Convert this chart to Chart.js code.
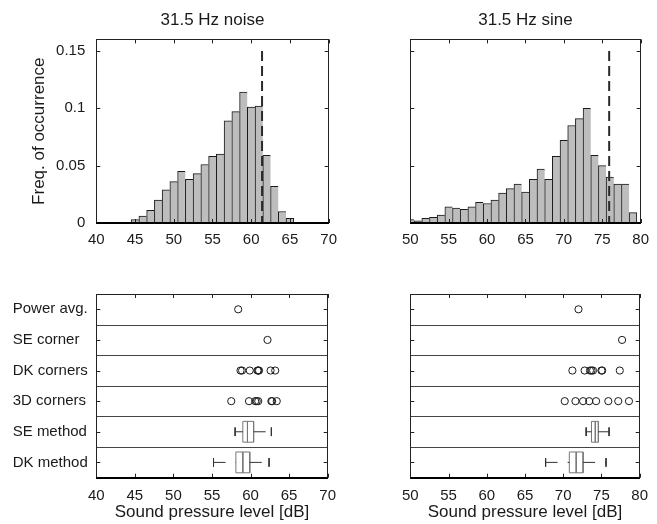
<!DOCTYPE html>
<html>
<head>
<meta charset="utf-8">
<script src="https://cdn.jsdelivr.net/npm/chart.js@4.4.1/dist/chart.umd.min.js"></script>
<style>
  body { margin: 0; background: #fff; }
  #wrap { position: relative; width: 657px; height: 524px; }
  canvas { position: absolute; }
</style>
</head>
<body>
<div id="wrap">
  <canvas id="histNoise" width="345" height="262" style="left:0;top:0"></canvas>
  <canvas id="histSine" width="312" height="262" style="left:345px;top:0"></canvas>
  <canvas id="levelsNoise" width="345" height="262" style="left:0;top:262px"></canvas>
  <canvas id="levelsSine" width="312" height="262" style="left:345px;top:262px"></canvas>
</div>
<script>
  // histogram bins (bin centres, dB) and frequency of occurrence
  var noiseBins = [45, 46, 47, 48, 49, 50, 51, 52, 53, 54, 55, 56, 57, 58, 59, 60, 61, 62, 63, 64, 65];
  var noiseFreq = [0.003, 0.006, 0.011, 0.020, 0.029, 0.036, 0.045, 0.038, 0.043, 0.051, 0.058,
                   0.060, 0.089, 0.097, 0.114, 0.101, 0.102, 0.059, 0.032, 0.010, 0.004];
  var sineBins = [50, 51, 52, 53, 54, 55, 56, 57, 58, 59, 60, 61, 62, 63, 64,
                  65, 66, 67, 68, 69, 70, 71, 72, 73, 74, 75, 76, 77, 78, 79];
  var sineFreq = [0.003, 0.002, 0.004, 0.005, 0.007, 0.014, 0.013, 0.012, 0.014, 0.018, 0.017,
                  0.020, 0.026, 0.030, 0.034, 0.027, 0.038, 0.047, 0.038, 0.058, 0.072, 0.085,
                  0.091, 0.100, 0.059, 0.050, 0.040, 0.034, 0.034, 0.009];

  // dashed reference levels
  var noiseRef = 61.4;
  var sineRef = 75.9;
  var refTop = 0.15;

  // tick values
  var freqTicks = [0, 0.05, 0.1, 0.15];
  var noiseTicks = [40, 45, 50, 55, 60, 65, 70];
  var sineTicks = [50, 55, 60, 65, 70, 75, 80];

  // lower panels
  var rowLabels = ['Power avg.', 'SE corner', 'DK corners', '3D corners', 'SE method', 'DK method'];

  var noisePowerAvg = [58.4];
  var noiseSECorner = [62.2];
  var noiseDKCorners = [58.7, 58.9, 59.9, 60.9, 61.0, 61.1, 62.6, 63.2];
  var noise3DCorners = [57.5, 59.8, 60.6, 60.8, 61.0, 62.7, 62.8, 63.4];
  // [lower whisker, q1, median, q3, upper whisker]
  var noiseSEMethod = [58.0, 59.0, 59.6, 60.4, 62.7];
  var noiseDKMethod = [55.2, 58.1, 59.0, 59.9, 62.4];

  var sinePowerAvg = [72.0];
  var sineSECorner = [77.7];
  var sineDKCorners = [71.2, 72.8, 73.5, 73.7, 73.9, 75.0, 75.1, 77.4];
  var sine3DCorners = [70.2, 71.6, 72.6, 73.4, 74.3, 75.9, 77.2, 78.6];
  var sineSEMethod = [73.0, 73.7, 74.2, 74.6, 76.0];
  var sineDKMethod = [67.7, 70.8, 71.7, 72.6, 75.6];

  Chart.defaults.font.family = "'Liberation Sans', Arial, sans-serif";
  Chart.defaults.font.size = 15;
  Chart.defaults.color = '#1a1a1a';
  Chart.defaults.animation = false;

  // frame, inward tick marks and row separators like the original plots
  var framePlugin = {
    id: 'frame',
    afterDraw: function(chart, args, opts) {
      var ctx = chart.ctx, a = chart.chartArea;
      var xs = chart.scales.x, ys = chart.scales.y;
      var tl = 4;
      function seg(x1, y1, x2, y2) {
        ctx.beginPath(); ctx.moveTo(x1, y1); ctx.lineTo(x2, y2); ctx.stroke();
      }
      ctx.save();
      ctx.lineWidth = 1;
      if (opts.rows) {
        ctx.strokeStyle = '#444';
        for (var i = 0; i < opts.rows - 1; i++) {
          var yy = Math.round(ys.getPixelForValue(i + 0.5)) + 0.5;
          seg(a.left, yy, a.right, yy);
        }
      }
      ctx.strokeStyle = '#222';
      xs.ticks.forEach(function(t) {
        var x = Math.round(xs.getPixelForValue(t.value)) + 0.5;
        seg(x, a.top, x, a.top + tl);
        seg(x, a.bottom, x, a.bottom - tl);
      });
      ys.ticks.forEach(function(t) {
        var y = Math.round(ys.getPixelForValue(t.value)) + 0.5;
        seg(a.left, y, a.left + tl, y);
        seg(a.right, y, a.right - tl, y);
      });
      ctx.strokeStyle = '#222';
      ctx.strokeRect(Math.round(a.left) + 0.5, Math.round(a.top) + 0.5,
                     Math.round(a.right - a.left), Math.round(a.bottom - a.top));
      ctx.strokeStyle = '#000';
      ctx.lineWidth = 2;
      seg(a.left, Math.round(a.bottom), a.right, Math.round(a.bottom));
      ctx.restore();
    }
  };

  function histChart(id, bins, freq, ref, xTicks, title, showY, yWidth, padRight) {
    var points = bins.map(function(b, i) { return {x: b, y: freq[i]}; });
    var last = bins.length - 1;
    return new Chart(document.getElementById(id), {
      type: 'bar',
      data: {
        datasets: [{
          type: 'line',
          data: [{x: ref, y: refTop}, {x: ref, y: 0}],
          borderColor: '#2a2a2a',
          borderWidth: 2,
          borderDash: [10, 5],
          pointRadius: 0
        }, {
          data: points,
          backgroundColor: '#bdbdbd',
          borderColor: '#1a1a1a',
          borderWidth: function(c) {
            return {top: 1, left: 1, right: c.dataIndex === last ? 1 : 0, bottom: 0};
          },
          barPercentage: 1,
          categoryPercentage: 1,
          clip: 0
        }]
      },
      options: {
        responsive: false,
        devicePixelRatio: 1,
        events: [],
        layout: { padding: { left: 0, right: padRight, top: 0, bottom: 0 } },
        plugins: {
          legend: { display: false },
          tooltip: { enabled: false },
          title: {
            display: true, text: title, fullSize: false,
            font: { size: 17, weight: 'normal' },
            padding: { top: 10, bottom: 9 }
          }
        },
        scales: {
          x: {
            type: 'linear', offset: false,
            min: xTicks[0], max: xTicks[xTicks.length - 1],
            afterBuildTicks: function(s) { s.ticks = xTicks.map(function(v) { return {value: v}; }); },
            ticks: { padding: 8, maxRotation: 0, callback: function(v) { return String(v); } },
            grid: { display: false, drawTicks: false },
            border: { display: false },
            afterFit: function(s) { s.height = 39; }
          },
          y: {
            min: 0, max: 0.16,
            afterBuildTicks: function(s) { s.ticks = freqTicks.map(function(v) { return {value: v}; }); },
            ticks: { display: showY, padding: 11, callback: function(v) { return String(v); } },
            grid: { display: false, drawTicks: false },
            border: { display: false },
            title: {
              display: showY, text: 'Freq. of occurrence',
              font: { size: 17 }, padding: { top: 29, bottom: 0 }
            },
            afterFit: function(s) { s.width = yWidth; }
          }
        }
      },
      plugins: [framePlugin]
    });
  }

  function circles(values, row) {
    return {
      data: values.map(function(v) { return {x: v, y: row}; }),
      pointStyle: 'circle',
      pointRadius: 3.6,
      borderWidth: 1,
      borderColor: '#1a1a1a',
      backgroundColor: 'rgba(0,0,0,0)'
    };
  }

  function seriesLine(pts, color, dash) {
    return {
      data: pts,
      showLine: true,
      pointRadius: 0,
      borderWidth: 1,
      borderColor: color,
      borderDash: dash || []
    };
  }

  // box plot drawn as lines: dashed whiskers, caps, box and median
  function boxPlot(stats, row) {
    var h = 0.34, c = 0.14;
    var lo = stats[0], q1 = stats[1], med = stats[2], q3 = stats[3], hi = stats[4];
    return [
      seriesLine([{x: lo, y: row}, {x: q1, y: row}], '#333', [12, 10]),
      seriesLine([{x: q3, y: row}, {x: hi, y: row}], '#333', [12, 10]),
      seriesLine([{x: lo, y: row - c}, {x: lo, y: row + c}], '#333'),
      seriesLine([{x: hi, y: row - c}, {x: hi, y: row + c}], '#333'),
      seriesLine([{x: q1, y: row - h}, {x: q3, y: row - h}, {x: q3, y: row + h},
                  {x: q1, y: row + h}, {x: q1, y: row - h}], '#777'),
      seriesLine([{x: med, y: row - h}, {x: med, y: row + h}], '#777')
    ];
  }

  function levelChart(id, power, se, dk, d3, seM, dkM, xTicks, showY, padLeft, yWidth, padRight) {
    var datasets = [circles(power, 0), circles(se, 1), circles(dk, 2), circles(d3, 3)]
      .concat(boxPlot(seM, 4), boxPlot(dkM, 5));
    return new Chart(document.getElementById(id), {
      type: 'scatter',
      data: { datasets: datasets },
      options: {
        responsive: false,
        devicePixelRatio: 1,
        events: [],
        layout: { padding: { left: padLeft, right: padRight, top: 32, bottom: 0 } },
        plugins: {
          legend: { display: false },
          tooltip: { enabled: false },
          frame: { rows: rowLabels.length }
        },
        scales: {
          x: {
            type: 'linear',
            min: xTicks[0], max: xTicks[xTicks.length - 1],
            afterBuildTicks: function(s) { s.ticks = xTicks.map(function(v) { return {value: v}; }); },
            ticks: { padding: 9, maxRotation: 0, callback: function(v) { return String(v); } },
            grid: { display: false, drawTicks: false },
            border: { display: false },
            title: {
              display: true, text: 'Sound pressure level [dB]',
              font: { size: 17 }, padding: { top: 0, bottom: 1 }
            },
            afterFit: function(s) { s.height = 46.3; }
          },
          y: {
            type: 'linear', reverse: true,
            min: -0.5, max: rowLabels.length - 0.5,
            afterBuildTicks: function(s) { s.ticks = rowLabels.map(function(l, i) { return {value: i}; }); },
            ticks: {
              display: showY, crossAlign: 'far', padding: 7,
              callback: function(v) { return rowLabels[v]; }
            },
            grid: { display: false, drawTicks: false },
            border: { display: false },
            afterFit: function(s) { s.width = yWidth; }
          }
        }
      },
      plugins: [framePlugin]
    });
  }

  histChart('histNoise', noiseBins, noiseFreq, noiseRef, noiseTicks, '31.5 Hz noise', true, 96.3, 10);
  histChart('histSine', sineBins, sineFreq, sineRef, sineTicks, '31.5 Hz sine', false, 65.3, 8);

  levelChart('levelsNoise', noisePowerAvg, noiseSECorner, noiseDKCorners, noise3DCorners,
             noiseSEMethod, noiseDKMethod, noiseTicks, true, 12.7, 83.6, 10);
  levelChart('levelsSine', sinePowerAvg, sineSECorner, sineDKCorners, sine3DCorners,
             sineSEMethod, sineDKMethod, sineTicks, false, 0, 65.3, 8);
</script>
</body>
</html>
